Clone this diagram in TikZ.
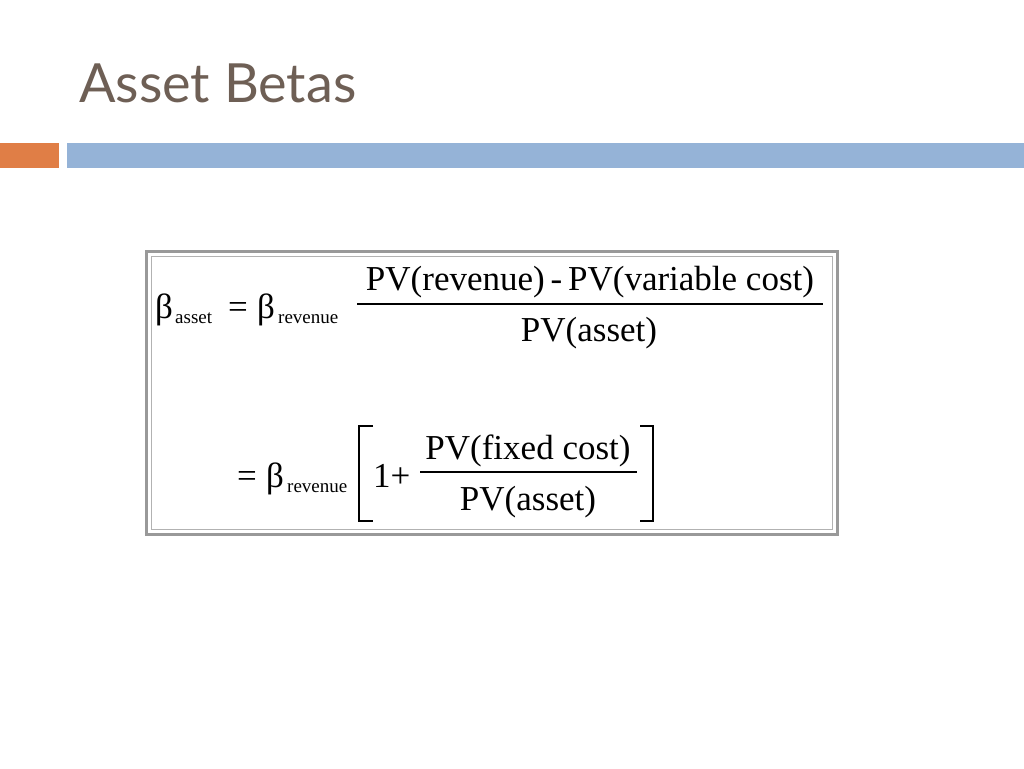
\documentclass[tikz,border=0pt]{standalone}
\usepackage{fontspec}
\setmainfont{Liberation Serif}
\newfontfamily\titlefont{Lato}
\definecolor{titlec}{RGB}{110,95,85}
\definecolor{orangec}{RGB}{224,126,70}
\definecolor{bluec}{RGB}{149,179,215}
\begin{document}
\begin{tikzpicture}[x=1pt,y=-1pt,
  eq/.style={inner sep=0pt,font=\fontsize{35}{35}\selectfont},
  sub/.style={inner sep=0pt,font=\fontsize{19}{19}\selectfont},
  frac/.style={line width=1.2pt},
  brk/.style={line width=1.2pt}]
\useasboundingbox (0,0) rectangle (1024,768);
\node[anchor=base west,inner sep=0pt,text=titlec,font=\titlefont\fontsize{54}{54}\selectfont] (title) at (79,102) {Asset Betas};
\fill[orangec] (0,143) rectangle (59,168);
\fill[bluec] (67,143) rectangle (1024,168);
\draw[gray!80,line width=3pt] (146,251) rectangle (837,534);
\draw[gray!60,line width=0.8pt] (151,256) rectangle (832,529);
% line 1
\node[eq,anchor=base west] (b1) at (155,318) {β};
\node[sub,anchor=base west] (s1) at (175,323) {asset};
\node[eq,anchor=base west] (e1) at (228,318) {=};
\node[eq,anchor=base west] (b2) at (257,318) {β};
\node[sub,anchor=base west] (s2) at (278,323) {revenue};
\draw[frac] (357,304) coordinate (f1a) -- (823,304) coordinate (f1b);
\node[eq,anchor=base] (n1) at (590,290) {PV(revenue)\,-\,PV(variable cost)};
\node[eq,anchor=base] (d1) at (589,341) {PV(asset)};
% line 2
\node[eq,anchor=base west] (e2) at (237,487) {=};
\node[eq,anchor=base west] (b3) at (266,487) {β};
\node[sub,anchor=base west] (s3) at (287,492) {revenue};
\draw[brk] (373,426) -- (359,426) -- (359,521) -- (373,521);
\node[eq,anchor=base west] (one) at (373,487) {1+};
\draw[frac] (420,472) coordinate (f2a) -- (637,472) coordinate (f2b);
\node[eq,anchor=base] (n2) at (528,459) {PV(fixed cost)};
\node[eq,anchor=base] (d2) at (528,510) {PV(asset)};
\draw[brk] (640,426) -- (653,426) -- (653,521) -- (640,521);
\end{tikzpicture}
\end{document}
